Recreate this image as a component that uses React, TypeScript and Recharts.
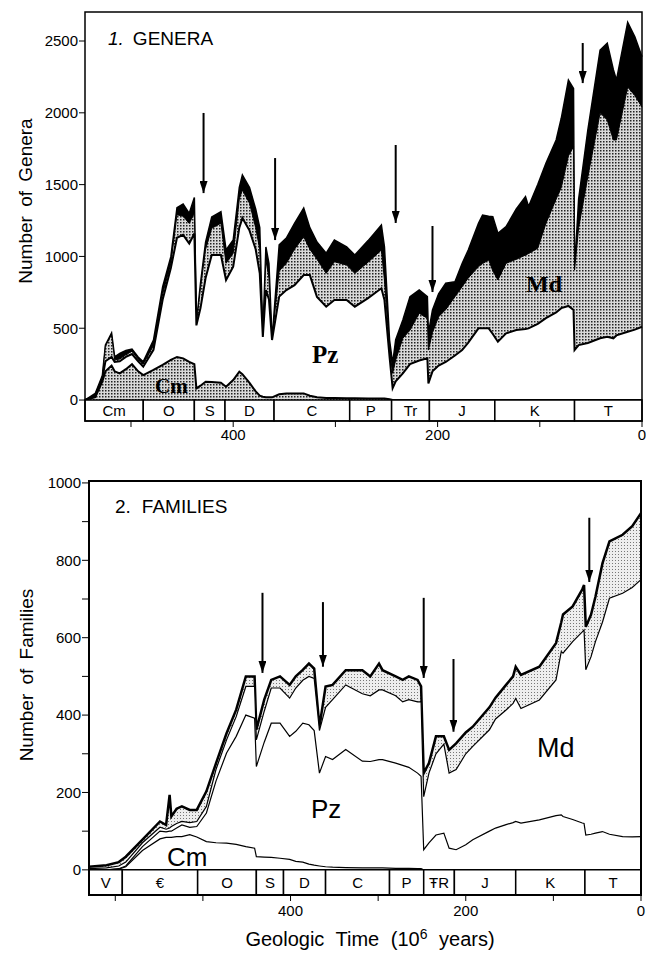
import React from "react";
import {
  AreaChart,
  Area,
  XAxis,
  YAxis,
  ReferenceArea,
  ReferenceLine,
} from "recharts";

// ---- 1. genera (cumulative tops of each fauna, millions of years ago) ----
const genAge = [
  545, 535, 528, 525, 519, 516, 511, 505, 499, 493, 488, 478, 469, 461, 455, 449, 443, 438, 436, 432,
  427, 421, 412, 407, 400, 394, 391, 384, 378, 374, 371, 368, 365, 362, 355, 348, 340, 331, 325, 318,
  309, 301, 289, 281, 268, 255, 252, 247, 244, 241, 234, 227, 218, 210, 209, 205, 199, 192, 183, 176,
  170, 160, 156, 150, 146, 141, 133, 123, 114, 111, 102, 94, 84, 79, 72, 67, 66, 62, 53, 41,
  34, 28, 25, 14, 7, 0,
];
const genCm = [
  0, 20, 130, 200, 240, 200, 186, 215, 250, 200, 174, 210, 245, 280, 300, 290, 265, 250, 81, 100,
  128, 125, 120, 93, 139, 197, 180, 120, 60, 30, 23, 20, 19, 19, 40, 46, 46, 46, 30, 19,
  15, 15, 12, 12, 10, 10, 10, 5, 0, 0, 0, 0, 0, 0, 0, 0, 0, 0, 0, 0,
  0, 0, 0, 0, 0, 0, 0, 0, 0, 0, 0, 0, 0, 0, 0, 0, 0, 0, 0, 0,
  0, 0, 0, 0, 0, 0,
];
const genPz = [
  0, 30, 150, 270, 300, 265, 270, 300, 320, 270, 232, 350, 700, 920, 1130, 1150, 1090, 1160, 520, 640,
  850, 1010, 1010, 836, 929, 1200, 1267, 1180, 1050, 882, 440, 766, 700, 418, 720, 766, 800, 870, 870, 717,
  650, 696, 696, 650, 710, 778, 696, 300, 82, 130, 186, 250, 275, 290, 116, 200, 240, 265, 310, 348,
  400, 499, 499, 499, 460, 406, 464, 487, 495, 499, 530, 570, 610, 640, 655, 627, 348, 383, 397, 430,
  440, 430, 450, 475, 490, 510,
];
const genMd = [
  0, 35, 160, 375, 455, 280, 285, 315, 340, 285, 250, 380, 740, 950, 1290, 1280, 1230, 1300, 530, 780,
  1050, 1196, 1231, 952, 1022, 1400, 1462, 1370, 1200, 1050, 440, 975, 850, 418, 900, 952, 1050, 1137, 1050, 980,
  882, 963, 940, 882, 960, 1045, 836, 350, 186, 279, 430, 487, 604, 569, 348, 470, 580, 630, 720, 789,
  850, 929, 950, 975, 900, 836, 952, 980, 1010, 1020, 1057, 1230, 1400, 1480, 1700, 1764, 905, 1200, 1555, 2000,
  1950, 1811, 1811, 2180, 2120, 2040,
];
const genAll = [
  0, 46, 170, 383, 466, 300, 325, 345, 355, 300, 267, 418, 789, 998, 1340, 1365, 1300, 1410, 536, 813,
  1100, 1275, 1311, 1045, 1114, 1480, 1567, 1480, 1330, 1200, 440, 1066, 950, 418, 1080, 1128, 1230, 1337, 1200, 1100,
  1023, 1114, 1066, 1010, 1110, 1219, 1066, 418, 256, 420, 557, 720, 766, 720, 464, 627, 740, 813, 824, 950,
  1045, 1230, 1288, 1280, 1277, 1161, 1207, 1330, 1416, 1347, 1500, 1648, 1811, 1962, 2228, 2170, 905, 1400, 1880, 2437,
  2484, 2300, 2228, 2630, 2530, 2390,
];
const genPeriods = ["Cm", "O", "S", "D", "C", "P", "Tr", "J", "K", "T"];
const genBounds = [545, 488, 438, 408, 360, 286, 245, 208, 144, 66, 0];
const genArrows = [
  [429, 1999, 1441],
  [359, 1685, 1114],
  [241, 1776, 1233],
  [205, 1212, 752],
  [58, 2486, 2207],
];
const genYTicks = [0, 500, 1000, 1500, 2000, 2500];

// ---- 2. families ----
const famAge = [
  630, 610, 596, 588, 569, 549, 542, 538, 536, 530, 524, 515, 507, 496, 485, 473, 462, 451, 441, 439,
  430, 422, 412, 401, 394, 386, 379, 373, 367, 360, 352, 337, 318, 309, 299, 295, 280, 272, 265, 255,
  251, 248, 242, 234, 225, 219, 211, 200, 192, 173, 166, 154, 146, 143, 137, 116, 97, 91, 89, 78,
  67, 65, 63, 57, 52, 44, 36, 21, 10, 0,
];
const famCm = [
  0, 0, 2, 8, 50, 80, 84, 84, 84, 86, 86, 91, 85, 73, 70, 69, 66, 60, 56, 34,
  33, 32, 30, 27, 22, 20, 15, 12, 10, 8, 7, 6, 5, 5, 5, 5, 4, 4, 4, 3,
  3, 0, 0, 0, 0, 0, 0, 0, 0, 0, 0, 0, 0, 0, 0, 0, 0, 0, 0, 0,
  0, 0, 0, 0, 0, 0, 0, 0, 0, 0,
];
const famPz = [
  0, 0, 3, 10, 60, 100, 98, 100, 100, 108, 116, 110, 112, 147, 230, 302, 345, 400, 392, 267,
  330, 379, 379, 345, 358, 379, 375, 360, 250, 293, 285, 311, 281, 280, 285, 285, 276, 270, 265, 250,
  242, 52, 70, 90, 95, 56, 52, 65, 78, 100, 108, 117, 122, 125, 121, 129, 140, 142, 138, 130,
  121, 120, 90, 92, 95, 99, 92, 86, 85, 86,
];
const famMd = [
  3, 5, 10, 20, 70, 110, 105, 108, 112, 120, 125, 122, 125, 164, 260, 336, 396, 474, 474, 336,
  410, 470, 470, 444, 470, 490, 500, 495, 360, 420, 440, 478, 455, 450, 465, 465, 450, 434, 440, 434,
  434, 189, 250, 300, 325, 250, 259, 300, 319, 362, 390, 413, 430, 443, 417, 439, 491, 564, 560, 590,
  615, 620, 517, 551, 590, 640, 702, 715, 730, 750,
];
const famAll = [
  8, 12, 20, 34, 78, 125, 116, 194, 138, 158, 164, 155, 155, 203, 276, 353, 414, 500, 500, 362,
  440, 491, 500, 478, 500, 517, 533, 520, 370, 474, 478, 516, 516, 500, 533, 516, 500, 491, 500, 491,
  474, 250, 276, 345, 345, 310, 327, 355, 370, 420, 445, 478, 500, 525, 504, 525, 586, 640, 660, 681,
  725, 736, 628, 660, 706, 792, 849, 866, 888, 922,
];
const famPeriods = ["V", "€", "O", "S", "D", "C", "P", "ŦR", "J", "K", "T"];
const famBounds = [630, 592, 506, 439, 408, 360, 287, 248, 213, 143, 64, 0];
const famArrows = [
  [432, 716, 509],
  [363, 692, 525],
  [248, 703, 496],
  [214, 545, 357],
  [59, 910, 744],
];
const famYTicks = [0, 100, 200, 300, 400, 500, 600, 700, 800, 900, 1000];
const ageTicksGen = [0, 100, 200, 300, 400, 500];
const ageTicksFam = [0, 100, 200, 300, 400, 500, 600];

const genRows = genAge.map((age, i) => ({
  age,
  cm: genCm[i],
  pz: genPz[i],
  md: genMd[i],
  all: genAll[i],
}));
const famRows = famAge.map((age, i) => ({
  age,
  cm: famCm[i],
  pz: famPz[i],
  md: famMd[i],
  all: famAll[i],
}));

const showAge = (v: number) => (v === 400 || v === 200 || v === 0 ? String(v) : "");
const tickStyle = { fill: "#000", fontSize: 15 };
const serifLbl = { fontFamily: "Liberation Serif", fontWeight: 700, fill: "#000" };
const overlay: React.CSSProperties = {
  position: "absolute",
  left: 0,
  top: 0,
  pointerEvents: "none",
};

export default function App() {
  return (
    <div
      style={{
        position: "absolute",
        left: 0,
        top: 0,
        width: 646,
        height: 953,
        background: "#fff",
        fontFamily: "Liberation Sans, Arial, sans-serif",
      }}
    >
      <div style={{ position: "absolute", left: 0, top: 0 }}>
        <AreaChart
          width={646}
          height={450}
          data={genRows}
          margin={{ top: 12, right: 4, bottom: 0, left: 0 }}
        >
          <defs>
            <pattern id="stipG" width="3" height="3" patternUnits="userSpaceOnUse">
              <rect width="3" height="3" fill="#d9d9d9" />
              <rect width="1.5" height="1.5" fill="#222" />
            </pattern>
            <marker
              id="arrG"
              markerWidth="12"
              markerHeight="8"
              refX="12"
              refY="4"
              orient="auto"
              markerUnits="userSpaceOnUse"
            >
              <path d="M0,0 L12,4 L0,8 z" fill="#000" />
            </marker>
          </defs>
          <XAxis
            dataKey="age"
            type="number"
            domain={[0, 545]}
            reversed
            ticks={ageTicksGen}
            interval={0}
            tickFormatter={showAge}
            axisLine={false}
            tickLine={{ stroke: "#000" }}
            tickSize={6}
            tick={tickStyle}
            height={29}
          />
          <YAxis
            type="number"
            domain={[-146, 2702]}
            ticks={genYTicks}
            interval={0}
            axisLine={false}
            tickLine={{ stroke: "#000" }}
            tickSize={6}
            tickMargin={1}
            tick={tickStyle}
            width={85}
          />
          <Area type="linear" dataKey="all" baseValue={0} stroke="#000" strokeWidth={1.5} fill="#000" fillOpacity={1} dot={false} activeDot={false} isAnimationActive={false} />
          <Area type="linear" dataKey="md" baseValue={0} stroke="#000" strokeWidth={1} fill="url(#stipG)" fillOpacity={1} dot={false} activeDot={false} isAnimationActive={false} />
          <Area type="linear" dataKey="pz" baseValue={0} stroke="#000" strokeWidth={2} fill="#fff" fillOpacity={1} dot={false} activeDot={false} isAnimationActive={false} />
          <Area type="linear" dataKey="cm" baseValue={0} stroke="#000" strokeWidth={2} fill="url(#stipG)" fillOpacity={1} dot={false} activeDot={false} isAnimationActive={false} />
          {genPeriods.map((p, i) => (
            <ReferenceArea
              key={p}
              x1={genBounds[i]}
              x2={genBounds[i + 1]}
              y1={-146}
              y2={0}
              fill="#fff"
              fillOpacity={1}
              stroke="#000"
              strokeWidth={1.5}
              ifOverflow="visible"
              label={{ value: p, position: "center", fill: "#000", fontSize: 15 }}
            />
          ))}
          <ReferenceArea x1={545} x2={0} y1={-146} y2={2702} fill="none" stroke="#000" strokeWidth={1.5} ifOverflow="visible" />
          {genArrows.map(([x, y1, y2]) => (
            <ReferenceLine
              key={x}
              segment={[{ x, y: y1 }, { x, y: y2 }]}
              stroke="#000"
              strokeWidth={2}
              markerEnd="url(#arrG)"
              ifOverflow="visible"
            />
          ))}
        </AreaChart>
        <svg width={646} height={450} style={overlay}>
          <text x={108} y={45} fontSize={19} fill="#000">
            <tspan fontStyle="italic">1.</tspan>
            <tspan dx={9}>GENERA</tspan>
          </text>
          <text
            x={32}
            y={201}
            fontSize={19}
            fill="#000"
            textAnchor="middle"
            wordSpacing={4}
            transform="rotate(-90 32 201)"
          >
            Number of Genera
          </text>
          <text x={155} y={393} fontSize={21} {...serifLbl}>Cm</text>
          <text x={312} y={363} fontSize={25} {...serifLbl}>Pz</text>
          <text x={526} y={292} fontSize={24} {...serifLbl}>Md</text>
        </svg>
      </div>

      <div style={{ position: "absolute", left: 0, top: 470 }}>
        <AreaChart
          width={646}
          height={483}
          data={famRows}
          margin={{ top: 11, right: 5, bottom: 0, left: 0 }}
        >
          <defs>
            <pattern id="stipF" width="3" height="3" patternUnits="userSpaceOnUse">
              <rect width="3" height="3" fill="#eeeeee" />
              <rect width="1" height="1" fill="#777" />
            </pattern>
            <marker
              id="arrF"
              markerWidth="12"
              markerHeight="8"
              refX="12"
              refY="4"
              orient="auto"
              markerUnits="userSpaceOnUse"
            >
              <path d="M0,0 L12,4 L0,8 z" fill="#000" />
            </marker>
          </defs>
          <XAxis
            dataKey="age"
            type="number"
            domain={[0, 630]}
            reversed
            ticks={ageTicksFam}
            interval={0}
            tickFormatter={showAge}
            axisLine={false}
            tickLine={{ stroke: "#000" }}
            tickSize={6}
            tickMargin={4}
            tick={tickStyle}
            height={58}
          />
          <YAxis
            type="number"
            domain={[-65, 1005]}
            ticks={famYTicks}
            interval={0}
            tickFormatter={(v: number) => (v % 200 === 0 ? String(v) : "")}
            axisLine={false}
            tickLine={{ stroke: "#000" }}
            tickSize={7}
            tickMargin={1}
            tick={tickStyle}
            width={89}
          />
          <Area type="linear" dataKey="all" baseValue={0} stroke="#000" strokeWidth={2.5} fill="url(#stipF)" fillOpacity={1} dot={false} activeDot={false} isAnimationActive={false} />
          <Area type="linear" dataKey="md" baseValue={0} stroke="#000" strokeWidth={1.2} fill="#fff" fillOpacity={1} dot={false} activeDot={false} isAnimationActive={false} />
          <Area type="linear" dataKey="pz" baseValue={0} stroke="#000" strokeWidth={1.2} fill="#fff" fillOpacity={1} dot={false} activeDot={false} isAnimationActive={false} />
          <Area type="linear" dataKey="cm" baseValue={0} stroke="#000" strokeWidth={1.2} fill="#fff" fillOpacity={1} dot={false} activeDot={false} isAnimationActive={false} />
          {famPeriods.map((p, i) => (
            <ReferenceArea
              key={p}
              x1={famBounds[i]}
              x2={famBounds[i + 1]}
              y1={-65}
              y2={0}
              fill="#fff"
              fillOpacity={1}
              stroke="#000"
              strokeWidth={1.5}
              ifOverflow="visible"
              label={{ value: p, position: "center", fill: "#000", fontSize: 15 }}
            />
          ))}
          <ReferenceArea x1={630} x2={0} y1={-65} y2={1005} fill="none" stroke="#000" strokeWidth={2} ifOverflow="visible" />
          {famArrows.map(([x, y1, y2]) => (
            <ReferenceLine
              key={x}
              segment={[{ x, y: y1 }, { x, y: y2 }]}
              stroke="#000"
              strokeWidth={2}
              markerEnd="url(#arrF)"
              ifOverflow="visible"
            />
          ))}
        </AreaChart>
        <svg width={646} height={483} style={overlay}>
          <text x={115} y={43} fontSize={19} fill="#000">
            2.<tspan dx={11}>FAMILIES</tspan>
          </text>
          <text
            x={33}
            y={205}
            fontSize={19}
            fill="#000"
            textAnchor="middle"
            wordSpacing={4}
            transform="rotate(-90 33 205)"
          >
            Number of Families
          </text>
          <text x={167} y={396} fontSize={26} fill="#000">Cm</text>
          <text x={311} y={348} fontSize={26} fill="#000">Pz</text>
          <text x={537} y={287} fontSize={27} fill="#000">Md</text>
          <text x={370} y={476} fontSize={20} fill="#000" textAnchor="middle" wordSpacing={6}>
            Geologic Time (10<tspan dy={-7} fontSize={14}>6</tspan>
            <tspan dy={7}> years)</tspan>
          </text>
        </svg>
      </div>
    </div>
  );
}
